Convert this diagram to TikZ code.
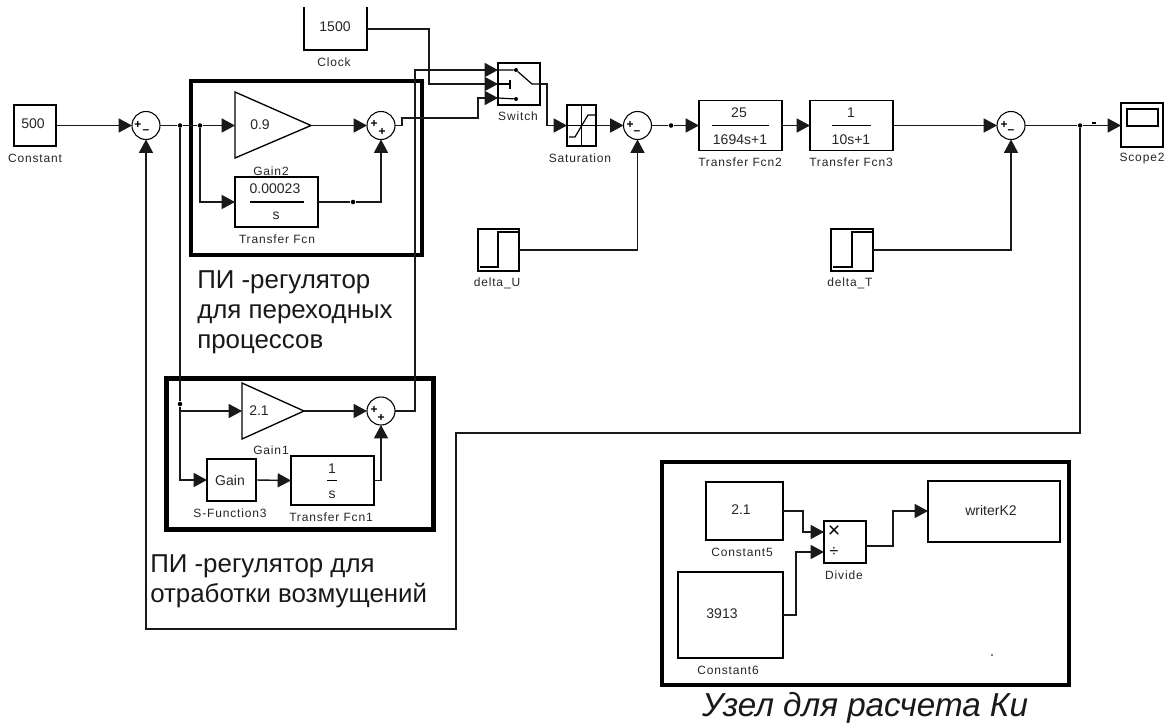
\documentclass[tikz,border=0pt]{standalone}
\usepackage{fontspec}
\setmainfont{Liberation Sans}
\newfontfamily\simfont[LetterSpace=7]{Liberation Sans}
\usetikzlibrary{arrows.meta,calc}
\tikzset{
  px/.style 2 args={minimum width=#1*0.75pt,minimum height=#2*0.75pt},
  blockbox/.style={draw,line width=1pt,inner sep=0pt,outer sep=0pt},
  sumnode/.style={draw,circle,line width=.8pt,minimum size=21pt,inner sep=0pt,outer sep=0pt},
  thickframe/.style={draw,line width=3.2pt,inner sep=0pt},
  wire/.style={line width=1.05pt,draw=black!90},
  flow/.style={wire,-{Triangle[length=10pt,width=10.5pt]}},
  lab/.style={font=\simfont\fontsize{9pt}{10pt}\selectfont,inner sep=0pt,text=black!85},
  val/.style={font=\fontsize{10.5pt}{12pt}\selectfont,inner sep=0pt,text=black!85},
  sign/.style={font=\bfseries\fontsize{9pt}{10pt}\selectfont,inner sep=0pt},
  captext/.style={font=\fontsize{19.4pt}{22.5pt}\selectfont,inner sep=0pt,align=left,anchor=north west,text=black!90},
  jdot/.style={circle,fill=black,inner sep=0pt,minimum size=3.4pt},
}
\begin{document}
\begin{tikzpicture}[x=0.75pt,y=-0.75pt]
\useasboundingbox[fill=white] (0,0) rectangle (1169,724);

% thick frames
\node[thickframe,px={231}{174}] (frameA) at (306.5,168) {};
\node[thickframe,px={267}{151}] (frameB) at (300,454) {};
\node[thickframe,px={407}{223}] (frameC) at (865.5,573.5) {};

% blocks of the upper row
\node[blockbox,px={42}{41}] (const) at (35,125.5) {};
\node[val] (constv) at (33,124) {500};
\node[lab] (constl) at (35,158) {Constant};
\node[px={63}{43},inner sep=0pt,outer sep=0pt] (clock) at (335.5,28.5) {};
\draw[line width=1pt] (clock.north west)--(clock.south west)--(clock.south east)--(clock.north east);
\node[val] (clockv) at (335,27) {1500};
\node[lab] (clockl) at (334,62) {Clock};

\node[sumnode] (s1) at (146,125.5) {};
\node[sign] (s1a) at (138,125) {+};
\node[sign] (s1b) at (146,132) {--};

\coordinate (g2a) at (235,92); \coordinate (g2b) at (235,158); \coordinate (g2c) at (311,125.5);
\draw[line width=1pt] (g2a)--(g2c)--(g2b)--cycle;
\node[val] (g2v) at (260,124.5) {0.9};
\node[lab] (g2l) at (271,171) {Gain2};

\node[blockbox,px={83}{50}] (tf) at (276.5,202) {};
\node[val] (tfn) at (275,189) {0.00023};
\node[val] (tfd) at (276,216) {s};
\draw[line width=.9pt] (250,202)--(304,202);
\node[lab] (tfl) at (277,239) {Transfer Fcn};

\node[sumnode] (s2) at (381,125.5) {};
\node[sign] (s2a) at (374,124) {+};
\node[sign] (s2b) at (382,132) {+};

\node[blockbox,px={42}{42}] (sw) at (519,84) {};
\node[lab] (swl) at (518,116) {Switch};
\coordinate (sw1) at (498,70); \coordinate (sw2) at (498,84); \coordinate (sw3) at (498,98);
\coordinate (swo) at (540,84);
\node[jdot,minimum size=3pt] (swd1) at (516,70) {};
\node[jdot,minimum size=3pt] (swd3) at (516,99) {};
\coordinate (swk) at (532,84);
\coordinate (swt) at (510,84);
\draw[line width=.9pt] (sw1)--(swd1)--(swk)--(swo);
\draw[line width=.9pt] (sw2)--(swt) (510,80)--(510,89);
\draw[line width=.9pt] (sw3)--(swd3);

\node[blockbox,px={29}{41}] (sat) at (581.5,125.5) {};
\draw[line width=.9pt] (sat.north)--(sat.south) (sat.west)--(sat.east);
\draw[line width=.9pt] (569,137)--(575,137)--(588,115)--(595,115);
\node[lab] (satl) at (580,158) {Saturation};

\node[sumnode] (s3) at (637.5,125.5) {};
\node[sign] (s3a) at (630,125) {+};
\node[sign] (s3b) at (637,133) {--};

\node[blockbox,px={83}{50}] (tf2) at (740.5,125.5) {};
\node[val] (tf2n) at (739,113) {25};
\node[val] (tf2d) at (740,140) {1694s+1};
\draw[line width=.9pt] (712,125.5)--(769,125.5);
\node[lab] (tf2l) at (740,162) {Transfer Fcn2};

\node[blockbox,px={83}{50}] (tf3) at (851.5,125.5) {};
\node[val] (tf3n) at (851,113) {1};
\node[val] (tf3d) at (851,140) {10s+1};
\draw[line width=.9pt] (832,125.5)--(871,125.5);
\node[lab] (tf3l) at (851,162) {Transfer Fcn3};

\node[sumnode] (s4) at (1011,125.5) {};
\node[sign] (s4a) at (1004,125) {+};
\node[sign] (s4b) at (1011,132) {--};

\node[blockbox,px={42}{44}] (scope) at (1142,125) {};
\node[draw,line width=1pt,px={31}{17},inner sep=0pt] (scopei) at (1142.5,117.5) {};
\node[lab] (scopel) at (1142,159) {Scope2};

\node[blockbox,px={41}{42}] (du) at (498.5,250) {};
\draw[line width=1pt] (480,267)--(498,267)--(498,232)--(519,232);
\node[lab] (dul) at (497,283) {delta\_U};
\node[blockbox,px={42}{42}] (dt) at (852,250) {};
\draw[line width=1pt] (833,267)--(852,267)--(852,232)--(873,232);
\node[lab] (dtl) at (850,283) {delta\_T};

% lower regulator
\coordinate (g1a) at (242,383); \coordinate (g1b) at (242,439); \coordinate (g1c) at (304,411);
\draw[line width=1pt] (g1a)--(g1c)--(g1b)--cycle;
\node[val] (g1v) at (259,411) {2.1};
\node[lab] (g1l) at (271,450) {Gain1};
\node[sumnode] (s5) at (381,411) {};
\node[sign] (s5a) at (374,410) {+};
\node[sign] (s5b) at (381,418) {+};
\node[blockbox,px={49}{42}] (sf) at (231.5,480) {};
\node[val] (sfv) at (230,480) {Gain};
\node[lab] (sfl) at (230,513) {S-Function3};
\node[blockbox,px={83}{49}] (tf1) at (332.5,480.5) {};
\node[val] (tf1n) at (332,469) {1};
\node[val] (tf1d) at (332,495) {s};
\draw[line width=.9pt] (327,480.5)--(337,480.5);
\node[lab] (tf1l) at (331,517) {Transfer Fcn1};

% Ki unit
\node[blockbox,px={77}{58}] (c5) at (744.5,511) {};
\node[val] (c5v) at (741,510) {2.1};
\node[lab] (c5l) at (742,552) {Constant5};
\node[blockbox,px={105}{86}] (c6) at (730.5,615) {};
\node[val] (c6v) at (722,614) {3913};
\node[lab] (c6l) at (728,670) {Constant6};
\node[blockbox,px={42}{42}] (div) at (845,542) {};
\node[font=\fontsize{16pt}{16pt}\selectfont,inner sep=0pt] (divx) at (834,532) {×};
\node[font=\fontsize{12pt}{12pt}\selectfont,inner sep=0pt] (divy) at (834,552) {÷};
\node[lab] (divl) at (844,575) {Divide};
\node[blockbox,px={132}{61}] (wr) at (994,511.5) {};
\node[val] (wrv) at (991,510) {writerK2};
\coordinate (d1) at (824,532); \coordinate (d2) at (824,552);
\node[circle,fill=black,inner sep=0pt,minimum size=1.2pt] (speck) at (992,655) {};

% captions
\node[captext] (capA) at (197,270) {ПИ -регулятор\\для переходных\\процессов};
\node[captext] (capB) at (150,554) {ПИ -регулятор для\\отработки возмущений};
\node[font=\itshape\fontsize{24.9pt}{28pt}\selectfont,inner sep=0pt,text=black!90] (capC) at (865,708) {Узел для расчета Ки};

% junctions
\node[jdot] (j1) at (180,125.5) {};
\node[jdot] (j2) at (200,125.5) {};
\node[jdot] (j3) at (180,404) {};
\node[jdot] (j4) at (353,202) {};
\node[jdot] (j5) at (671,125.5) {};
\node[jdot] (j6) at (1080,125.5) {};
\coordinate (j7) at (180,411);
\coordinate (mark) at (1094,123);
\draw[line width=1.1pt] ($(mark)+(-2,0)$)--($(mark)+(2,0)$);

% connectors
\draw[flow] (const.east)--(s1.west);
\draw[wire] (s1.east)--(j1)--(j2);
\draw[flow] (j2)--(g2a|-j2);
\draw[flow] (j2)|-(tf.west);
\draw[flow] (g2c)--(s2.west);
\draw[flow] (tf.east)--(j4)-|(s2.south);
\coordinate (o2a) at (402,125.5); \coordinate (o2b) at (402,118); \coordinate (o2c) at (478,118);
\draw[flow] (s2.east)--(o2a)--(o2b)--(o2c)|-(sw3);
\coordinate (clk1) at (429,29);
\draw[flow] (clock.east|-clk1)--(clk1)|-(sw2);
\coordinate (o5) at (415,411);
\draw[flow] (s5.east)--(o5)|-(sw1);
\coordinate (o4) at (547,84);
\draw[flow] (swo)--(o4)|-(sat.west);
\draw[flow] (sat.east)--(s3.west);
\draw[flow] (du.east)-|(s3.south);
\draw[wire] (s3.east)--(j5);
\draw[flow] (j5)--(tf2.west);
\draw[flow] (tf2.east)--(tf3.west);
\draw[flow] (tf3.east)--(s4.west);
\draw[flow] (dt.east)-|(s4.south);
\draw[wire] (s4.east)--(j6);
\draw[flow] (j6)--(scope.west|-j6);
\coordinate (fb1) at (1080,433); \coordinate (fb2) at (456,433); \coordinate (fb3) at (456,629); \coordinate (fb4) at (146,629);
\draw[flow] (j6)--(fb1)--(fb2)--(fb3)--(fb4)--(s1.south);
\draw[wire] (j1)--(j3)--(j7);
\draw[flow] (j7)--(g1a|-j7);
\draw[flow] (j7)|-(sf.west);
\draw[flow] (g1c)--(s5.west);
\draw[flow] (sf.east)--(tf1.west);
\draw[flow] (tf1.east)-|(s5.south);
\coordinate (v1) at (803,511); \coordinate (v2) at (796,615); \coordinate (v3) at (893,546); \coordinate (v4) at (893,511);
\draw[flow] (c5.east|-v1)--(v1)|-(d1);
\draw[flow] (c6.east|-v2)--(v2)|-(d2);
\draw[flow] (div.east|-v3)--(v3)--(v4)--(wr.west|-v4);
\end{tikzpicture}
\end{document}
